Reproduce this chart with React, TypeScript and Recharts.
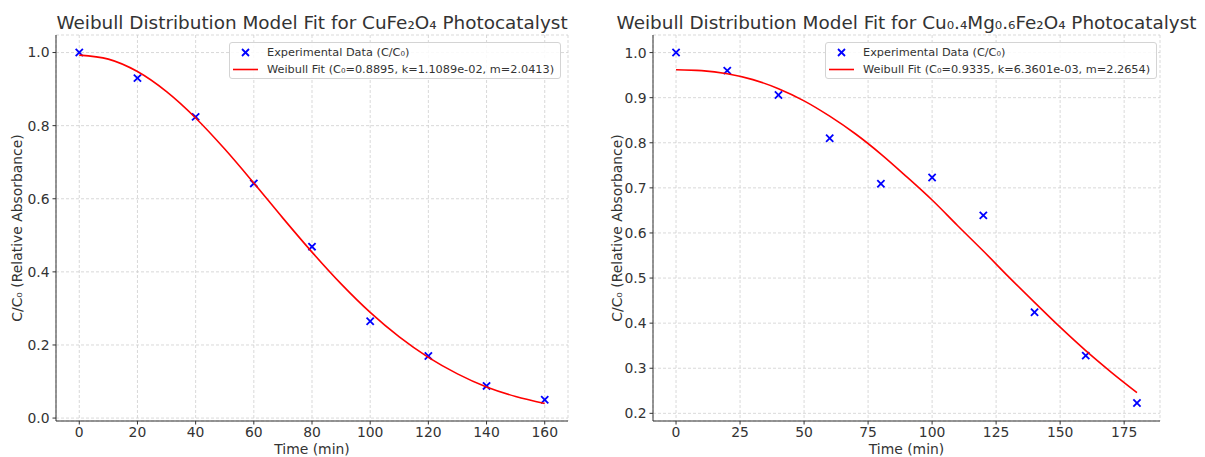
import { CartesianGrid, Scatter, ScatterChart, XAxis, YAxis } from 'recharts'

// CuFe2O4 (left panel)
const cuTime = [0, 20, 40, 60, 80, 100, 120, 140, 160]
const cuExp = [1.0, 0.93, 0.824, 0.642, 0.469, 0.265, 0.17, 0.088, 0.05]
const cuFitTime = [0, 10, 20, 30, 40, 50, 60, 70, 80, 90, 100, 110, 120, 130, 140, 150, 160]
const cuFit = [0.993, 0.982, 0.948, 0.893, 0.821, 0.736, 0.643, 0.547, 0.454, 0.367, 0.289, 0.222, 0.166, 0.121, 0.085, 0.059, 0.04]
const cuXTicks = [0, 20, 40, 60, 80, 100, 120, 140, 160]
const cuYTicks = [0, 0.2, 0.4, 0.6, 0.8, 1.0]

// Cu0.4Mg0.6Fe2O4 (right panel)
const mgTime = [0, 20, 40, 60, 80, 100, 120, 140, 160, 180]
const mgExp = [1.0, 0.96, 0.906, 0.81, 0.709, 0.723, 0.639, 0.424, 0.328, 0.223]
const mgFitTime = [0, 10, 20, 30, 40, 50, 60, 70, 80, 90, 100, 110, 120, 130, 140, 150, 160, 170, 180]
const mgFit = [0.962, 0.96, 0.953, 0.94, 0.92, 0.893, 0.859, 0.82, 0.775, 0.725, 0.673, 0.616, 0.56, 0.502, 0.446, 0.391, 0.339, 0.291, 0.246]
const mgXTicks = [0, 25, 50, 75, 100, 125, 150, 175]
const mgYTicks = [0.2, 0.3, 0.4, 0.5, 0.6, 0.7, 0.8, 0.9, 1.0]

const FONT = '"DejaVu Sans", sans-serif'
const INK = '#333333'
const TICK = { fontSize: 13.9, fill: INK, fontFamily: FONT }

const toPoints = (xs: number[], ys: number[]) => xs.map((t, i) => ({ t, v: ys[i] }))

function Cross(props: any) {
  const { cx, cy } = props
  if (cx == null || cy == null) return <g />
  const r = 3.6
  return (
    <g stroke="#0000ff" strokeWidth={1.8}>
      <line x1={cx - r} y1={cy - r} x2={cx + r} y2={cy + r} />
      <line x1={cx - r} y1={cy + r} x2={cx + r} y2={cy - r} />
    </g>
  )
}

interface PanelProps {
  left: number
  width: number
  yAxisWidth: number
  marginRight: number
  xDomain: [number, number]
  yDomain: [number, number]
  xTicks: number[]
  yTicks: number[]
  title: string
  fitLabel: string
  exp: { t: number; v: number }[]
  fit: { t: number; v: number }[]
  legendLeft: number
}

function Panel(p: PanelProps) {
  const plotLeft = p.yAxisWidth
  const plotRight = p.width - p.marginRight
  return (
    <div style={{ position: 'absolute', left: p.left, top: 0, width: p.width, height: 457 }}>
      {/* title is centred over the plot area and may spill past it, like matplotlib */}
      <div
        style={{
          position: 'absolute',
          top: 14,
          left: (plotLeft + plotRight) / 2,
          transform: 'translateX(-50%)',
          fontFamily: FONT,
          fontSize: 18.4,
          lineHeight: '18px',
          color: INK,
          whiteSpace: 'nowrap',
        }}
      >
        {p.title}
      </div>
      <ScatterChart width={p.width} height={457} margin={{ top: 35, right: p.marginRight, bottom: 0, left: 0 }}>
        <CartesianGrid stroke="#cfcfcf" strokeWidth={0.8} strokeDasharray="3 2" />
        <XAxis
          type="number"
          dataKey="t"
          domain={p.xDomain}
          ticks={p.xTicks}
          interval={0}
          allowDataOverflow
          height={36}
          tick={TICK}
          tickSize={3.5}
          tickMargin={3}
          stroke={INK}
          label={{ value: 'Time (min)', position: 'insideBottom', offset: 3, style: { fontSize: 13.9, fill: INK, fontFamily: FONT } }}
        />
        <YAxis
          type="number"
          dataKey="v"
          domain={p.yDomain}
          ticks={p.yTicks}
          interval={0}
          allowDataOverflow
          width={p.yAxisWidth}
          tick={TICK}
          tickSize={3.5}
          tickMargin={3}
          stroke={INK}
          tickFormatter={(v: number) => v.toFixed(1)}
          label={{
            value: 'C/C₀ (Relative Absorbance)',
            angle: -90,
            position: 'insideLeft',
            offset: 17,
            style: { textAnchor: 'middle', fontSize: 13.9, fill: INK, fontFamily: FONT },
          }}
        />
        <Scatter data={p.exp} shape={<Cross />} isAnimationActive={false} />
        <Scatter
          data={p.fit}
          line={{ stroke: '#ff0000', strokeWidth: 1.6 }}
          lineJointType="monotoneX"
          shape={() => <g />}
          isAnimationActive={false}
        />
      </ScatterChart>
      <div
        style={{
          position: 'absolute',
          left: p.legendLeft,
          top: 42,
          height: 37,
          boxSizing: 'border-box',
          border: '1px solid #d4d4d4',
          borderRadius: 3,
          background: 'rgba(255,255,255,0.85)',
          padding: '1px 6px 0 3px',
          fontFamily: FONT,
          fontSize: 11.3,
          color: INK,
          whiteSpace: 'nowrap',
        }}
      >
        <div style={{ display: 'flex', alignItems: 'center', height: 17 }}>
          <svg width={25} height={17} style={{ marginRight: 9 }}>
            <g stroke="#0000ff" strokeWidth={1.8}>
              <line x1={9} y1={5} x2={16} y2={12} />
              <line x1={9} y1={12} x2={16} y2={5} />
            </g>
          </svg>
          Experimental Data (C/C₀)
        </div>
        <div style={{ display: 'flex', alignItems: 'center', height: 17 }}>
          <svg width={25} height={17} style={{ marginRight: 9 }}>
            <line x1={0} y1={8.5} x2={25} y2={8.5} stroke="#ff0000" strokeWidth={1.6} />
          </svg>
          {p.fitLabel}
        </div>
      </div>
    </div>
  )
}

export default function App() {
  return (
    <div style={{ position: 'absolute', left: 0, top: 0, width: 1205, height: 457, background: '#fff' }}>
      <Panel
        left={0}
        width={600}
        yAxisWidth={56}
        marginRight={32}
        xDomain={[-8, 168]}
        yDomain={[-0.008, 1.048]}
        xTicks={cuXTicks}
        yTicks={cuYTicks}
        title="Weibull Distribution Model Fit for CuFe₂O₄ Photocatalyst"
        fitLabel="Weibull Fit (C₀=0.8895, k=1.1089e-02, m=2.0413)"
        exp={toPoints(cuTime, cuExp)}
        fit={toPoints(cuFitTime, cuFit)}
        legendLeft={229}
      />
      <Panel
        left={600}
        width={605}
        yAxisWidth={53}
        marginRight={45}
        xDomain={[-9, 189]}
        yDomain={[0.183, 1.039]}
        xTicks={mgXTicks}
        yTicks={mgYTicks}
        title="Weibull Distribution Model Fit for Cu₀.₄Mg₀.₆Fe₂O₄ Photocatalyst"
        fitLabel="Weibull Fit (C₀=0.9335, k=6.3601e-03, m=2.2654)"
        exp={toPoints(mgTime, mgExp)}
        fit={toPoints(mgFitTime, mgFit)}
        legendLeft={225}
      />
    </div>
  )
}
